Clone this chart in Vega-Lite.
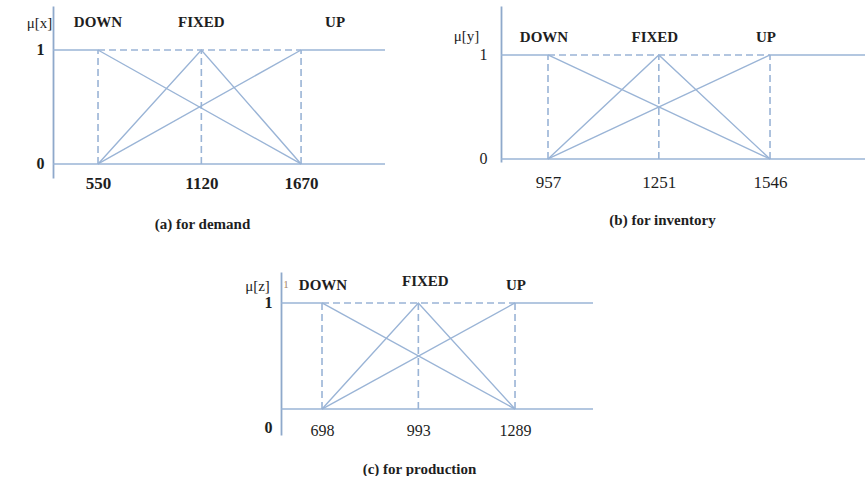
{
  "$schema": "https://vega.github.io/schema/vega-lite/v6.json",
  "padding": {"left": 26, "top": 6, "right": 0, "bottom": 0},
  "background": "white",
  "spacing": 41,
  "config": {
    "view": {"stroke": null},
    "rule": {"stroke": "#9ab4d6", "strokeWidth": 1.6},
    "line": {"stroke": "#9ab4d6", "strokeWidth": 1.4},
    "text": {"font": "Liberation Serif", "fontSize": 15, "fontWeight": "bold", "fill": "#1e1e1e", "baseline": "middle", "align": "center"},
    "axis": {
      "domainColor": "#8fa9cb", "domainWidth": 1.8, "ticks": false, "grid": false,
      "labelFont": "Liberation Serif", "labelColor": "#1e1e1e",
      "titleFont": "Liberation Serif", "titleColor": "#1e1e1e",
      "labelOverlap": false, "labelFlush": false
    }
  },
  "vconcat": [
    {
      "bounds": "flush",
      "spacing": 116,
      "hconcat": [
        {
          "width": 332, "height": 172,
          "layer": [
            {
              "data": {"values": [{"mu": 0}]},
              "mark": "rule",
              "encoding": {
                "y": {"field": "mu", "type": "quantitative",
                  "scale": {"domain": [-0.123, 1.386], "nice": false, "zero": false},
                  "axis": {"values": [0, 1], "format": "d", "labelFontSize": 16, "labelFontWeight": "bold", "labelPadding": 9,
                    "title": "μ[x]", "titleAngle": 0, "titleX": -14, "titleY": 16, "titleBaseline": "middle", "titleAlign": "center", "titleFontSize": 15, "titleFontWeight": "normal"}}
              }
            },
            {
              "data": {"values": [{"term": "DOWN", "value": 550}, {"term": "FIXED", "value": 1120}, {"term": "UP", "value": 1670}]},
              "mark": {"type": "rule", "strokeDash": [7, 4]},
              "encoding": {
                "x": {"field": "value", "type": "quantitative",
                  "scale": {"domain": [301.7, 2133], "nice": false, "zero": false},
                  "axis": {"values": [550, 1120, 1670], "format": "d", "domain": false, "labelFontSize": 17, "labelFontWeight": "bold", "labelBaseline": "middle", "labelPadding": 5,
                    "title": "(a) for demand", "titleX": 149, "titleY": 45, "titleBaseline": "middle", "titleFontSize": 15, "titleFontWeight": "bold"}},
                "y": {"datum": 0, "type": "quantitative"},
                "y2": {"datum": 1}
              }
            },
            {
              "data": {"values": [{}]},
              "mark": "rule",
              "encoding": {
                "x": {"datum": 301.7, "type": "quantitative"},
                "x2": {"datum": 550},
                "y": {"datum": 1, "type": "quantitative"}
              }
            },
            {
              "data": {"values": [{}]},
              "mark": "rule",
              "encoding": {
                "x": {"datum": 1670, "type": "quantitative"},
                "x2": {"datum": 2133},
                "y": {"datum": 1, "type": "quantitative"}
              }
            },
            {
              "data": {"values": [{}]},
              "mark": {"type": "rule", "strokeDash": [7, 4]},
              "encoding": {
                "x": {"datum": 550, "type": "quantitative"},
                "x2": {"datum": 1670},
                "y": {"datum": 1, "type": "quantitative"}
              }
            },
            {
              "data": {"values": [
                {"set": "DOWN", "value": 550, "mu": 1}, {"set": "DOWN", "value": 1670, "mu": 0},
                {"set": "FIXED", "value": 550, "mu": 0}, {"set": "FIXED", "value": 1120, "mu": 1}, {"set": "FIXED", "value": 1670, "mu": 0},
                {"set": "UP", "value": 550, "mu": 0}, {"set": "UP", "value": 1670, "mu": 1}
              ]},
              "mark": "line",
              "encoding": {
                "x": {"field": "value", "type": "quantitative"},
                "y": {"field": "mu", "type": "quantitative"},
                "detail": {"field": "set"}
              }
            },
            {
              "data": {"values": [{"term": "DOWN", "value": 550}, {"term": "FIXED", "value": 1120}]},
              "mark": "text",
              "encoding": {
                "x": {"field": "value", "type": "quantitative"},
                "y": {"datum": 1.245, "type": "quantitative"},
                "text": {"field": "term"}
              }
            },
            {
              "data": {"values": [{"term": "UP", "value": 1670}]},
              "mark": {"type": "text", "dx": 34},
              "encoding": {
                "x": {"field": "value", "type": "quantitative"},
                "y": {"datum": 1.245, "type": "quantitative"},
                "text": {"field": "term"}
              }
            }
          ]
        },
        {
          "width": 364, "height": 156,
          "layer": [
            {
              "data": {"values": [{"mu": 0}]},
              "mark": "rule",
              "encoding": {
                "y": {"field": "mu", "type": "quantitative",
                  "scale": {"domain": [-0.029, 1.471], "nice": false, "zero": false},
                  "axis": {"values": [0, 1], "format": "d", "labelFontSize": 16, "labelFontWeight": "normal", "labelPadding": 14,
                    "title": "μ[y]", "titleAngle": 0, "titleX": -35, "titleY": 29, "titleBaseline": "middle", "titleAlign": "center", "titleFontSize": 15, "titleFontWeight": "normal"}}
              }
            },
            {
              "data": {"values": [{"term": "DOWN", "value": 957}, {"term": "FIXED", "value": 1251}, {"term": "UP", "value": 1546}]},
              "mark": {"type": "rule", "strokeDash": [7, 4]},
              "encoding": {
                "x": {"field": "value", "type": "quantitative",
                  "scale": {"domain": [832.3, 1798], "nice": false, "zero": false},
                  "axis": {"values": [957, 1251, 1546], "format": "d", "domain": false, "labelFontSize": 17, "labelFontWeight": "normal", "labelBaseline": "middle", "labelPadding": 20,
                    "title": "(b) for inventory", "titleX": 161, "titleY": 57, "titleBaseline": "middle", "titleFontSize": 15, "titleFontWeight": "bold"}},
                "y": {"datum": 0, "type": "quantitative"},
                "y2": {"datum": 1}
              }
            },
            {
              "data": {"values": [{}]},
              "mark": "rule",
              "encoding": {
                "x": {"datum": 832.3, "type": "quantitative"},
                "x2": {"datum": 957},
                "y": {"datum": 1, "type": "quantitative"}
              }
            },
            {
              "data": {"values": [{}]},
              "mark": "rule",
              "encoding": {
                "x": {"datum": 1546, "type": "quantitative"},
                "x2": {"datum": 1798},
                "y": {"datum": 1, "type": "quantitative"}
              }
            },
            {
              "data": {"values": [{}]},
              "mark": {"type": "rule", "strokeDash": [7, 4]},
              "encoding": {
                "x": {"datum": 957, "type": "quantitative"},
                "x2": {"datum": 1546},
                "y": {"datum": 1, "type": "quantitative"}
              }
            },
            {
              "data": {"values": [
                {"set": "DOWN", "value": 957, "mu": 1}, {"set": "DOWN", "value": 1546, "mu": 0},
                {"set": "FIXED", "value": 957, "mu": 0}, {"set": "FIXED", "value": 1251, "mu": 1}, {"set": "FIXED", "value": 1546, "mu": 0},
                {"set": "UP", "value": 957, "mu": 0}, {"set": "UP", "value": 1546, "mu": 1}
              ]},
              "mark": "line",
              "encoding": {
                "x": {"field": "value", "type": "quantitative"},
                "y": {"field": "mu", "type": "quantitative"},
                "detail": {"field": "set"}
              }
            },
            {
              "data": {"values": [{"term": "DOWN", "value": 957}, {"term": "FIXED", "value": 1251}, {"term": "UP", "value": 1546}]},
              "mark": {"type": "text", "dx": -4},
              "encoding": {
                "x": {"field": "value", "type": "quantitative"},
                "y": {"datum": 1.173, "type": "quantitative"},
                "text": {"field": "term"}
              }
            }
          ]
        }
      ]
    },
    {
      "width": 540, "height": 163,
      "layer": [
        {
          "data": {"values": [{}]},
          "mark": "rule",
          "encoding": {
            "x": {"datum": 572.5, "type": "quantitative"},
            "x2": {"datum": 1527.8},
            "y": {"datum": 0, "type": "quantitative",
              "scale": {"domain": [-0.245, 1.292], "nice": false, "zero": false},
              "axis": {"values": [1, -0.17], "labelExpr": "datum.value > 0.5 ? '1' : '0'", "labelFontSize": 16, "labelFontWeight": "bold", "labelPadding": 9, "offset": -228,
                "title": "μ[z]", "titleAngle": 0, "titleX": -24, "titleY": 13, "titleBaseline": "middle", "titleAlign": "center", "titleFontSize": 15, "titleFontWeight": "normal"}}
          }
        },
        {
          "data": {"values": [{"term": "DOWN", "value": 698}, {"term": "FIXED", "value": 993}, {"term": "UP", "value": 1289}]},
          "mark": {"type": "rule", "strokeDash": [7, 4]},
          "encoding": {
            "x": {"field": "value", "type": "quantitative",
              "scale": {"domain": [-125.7, 1527.8], "nice": false, "zero": false},
              "axis": {"values": [698, 993, 1289], "format": "d", "domain": false, "labelFontSize": 16, "labelFontWeight": "normal", "labelBaseline": "middle", "labelPadding": -5,
                "title": "(c) for production", "titleX": 366, "titleY": 33, "titleBaseline": "middle", "titleFontSize": 15, "titleFontWeight": "bold"}},
            "y": {"datum": 0, "type": "quantitative"},
            "y2": {"datum": 1}
          }
        },
        {
          "data": {"values": [{}]},
          "mark": "rule",
          "encoding": {
            "x": {"datum": 572.5, "type": "quantitative"},
            "x2": {"datum": 698},
            "y": {"datum": 1, "type": "quantitative"}
          }
        },
        {
          "data": {"values": [{}]},
          "mark": "rule",
          "encoding": {
            "x": {"datum": 1289, "type": "quantitative"},
            "x2": {"datum": 1527.8},
            "y": {"datum": 1, "type": "quantitative"}
          }
        },
        {
          "data": {"values": [{}]},
          "mark": {"type": "rule", "strokeDash": [7, 4]},
          "encoding": {
            "x": {"datum": 698, "type": "quantitative"},
            "x2": {"datum": 1289},
            "y": {"datum": 1, "type": "quantitative"}
          }
        },
        {
          "data": {"values": [
            {"set": "DOWN", "value": 698, "mu": 1}, {"set": "DOWN", "value": 1289, "mu": 0},
            {"set": "FIXED", "value": 698, "mu": 0}, {"set": "FIXED", "value": 993, "mu": 1}, {"set": "FIXED", "value": 1289, "mu": 0},
            {"set": "UP", "value": 698, "mu": 0}, {"set": "UP", "value": 1289, "mu": 1}
          ]},
          "mark": "line",
          "encoding": {
            "x": {"field": "value", "type": "quantitative"},
            "y": {"field": "mu", "type": "quantitative"},
            "detail": {"field": "set"}
          }
        },
        {
          "data": {"values": [{"term": "DOWN", "value": 698}, {"term": "UP", "value": 1289}]},
          "mark": {"type": "text", "dx": 1},
          "encoding": {
            "x": {"field": "value", "type": "quantitative"},
            "y": {"datum": 1.17, "type": "quantitative"},
            "text": {"field": "term"}
          }
        },
        {
          "data": {"values": [{"term": "FIXED", "value": 993}]},
          "mark": {"type": "text", "dx": 7},
          "encoding": {
            "x": {"field": "value", "type": "quantitative"},
            "y": {"datum": 1.21, "type": "quantitative"},
            "text": {"field": "term"}
          }
        },
        {
          "data": {"values": [{"glyph": "1", "value": 572.5}]},
          "mark": {"type": "text", "dx": 5, "fontSize": 11, "fontWeight": "normal", "fill": "#a8876a"},
          "encoding": {
            "x": {"field": "value", "type": "quantitative"},
            "y": {"datum": 1.17, "type": "quantitative"},
            "text": {"field": "glyph"}
          }
        }
      ]
    }
  ]
}
